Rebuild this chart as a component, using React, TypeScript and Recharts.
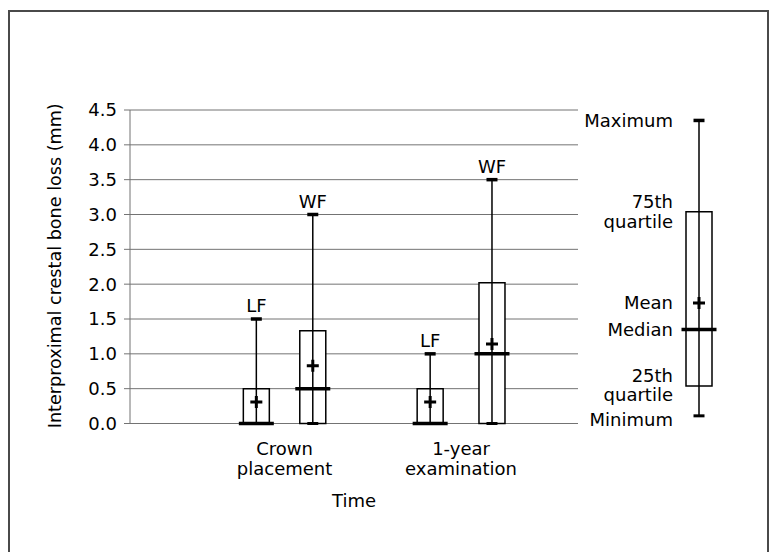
import React from 'react';
import {
  ComposedChart,
  XAxis,
  YAxis,
  CartesianGrid,
  ReferenceArea,
  ReferenceLine,
  Scatter,
} from 'recharts';

// ---------------- data ----------------
const timePoints = ['Crown placement', '1-year examination'];
const groupNames = ['LF', 'WF'];
// one entry per box: LF & WF at crown placement, LF & WF at 1-year examination
const boxTime = [0, 0, 1, 1];
const boxGroup = [0, 1, 0, 1];
const minimum = [0, 0, 0, 0];
const quartile25 = [0, 0, 0, 0];
const median = [0, 0.5, 0, 1.0];
const quartile75 = [0.5, 1.33, 0.5, 2.02];
const maximum = [1.5, 3.0, 1.0, 3.5];
const mean = [0.31, 0.83, 0.31, 1.14];

const yTicks = [0, 0.5, 1, 1.5, 2, 2.5, 3, 3.5, 4, 4.5];

// explanatory key box
const keyLabels = ['Maximum', '75th\nquartile', 'Mean', 'Median', '25th\nquartile', 'Minimum'];
const keyValues = [4.35, 3.04, 1.73, 1.35, 0.54, 0.11];

// ---------------- layout ----------------
const W = 770;
const H = 552;
const FONT = '"DejaVu Sans", Verdana, sans-serif';
const GRID = '#737373';
const X_DOMAIN: [number, number] = [0, 10]; // main plot spans 448px
const BOX_X = [2.82, 4.08, 6.70, 8.08];
const MAIN_PX = 44.8; // px per x unit in main chart
const KEY_PX = 40; // px per x unit in key chart
const BOX_HALF_PX = 13;
const MED_HALF_PX = 17.5;
const CAP_HALF_PX = 5.5;
const KEY_LABEL_NUDGE = [0, 0, 0, 0, -1, 4]; // px, vertical text nudges of key labels

type Box = {
  x: number;
  name?: string;
  min: number;
  q1: number;
  med: number;
  q3: number;
  max: number;
  mean: number;
};

const boxes: Box[] = boxTime.map((t, i) => ({
  x: BOX_X[i],
  name: groupNames[boxGroup[i]],
  min: minimum[i],
  q1: quartile25[i],
  med: median[i],
  q3: quartile75[i],
  max: maximum[i],
  mean: mean[i],
}));

const timeCenters = timePoints.map((_, t) => {
  const xs = BOX_X.filter((_, i) => boxTime[i] === t);
  return xs.reduce((a, b) => a + b, 0) / xs.length;
});

const keyBox: Box = {
  x: 0.5,
  max: keyValues[0],
  q3: keyValues[1],
  mean: keyValues[2],
  med: keyValues[3],
  q1: keyValues[4],
  min: keyValues[5],
};

const Plus = (props: any) => {
  const { cx, cy } = props;
  if (cx == null || cy == null) return null;
  return (
    <path
      d={`M${cx - 6},${cy}H${cx + 6}M${cx},${cy - 6}V${cy + 6}`}
      stroke="#000"
      strokeWidth={3}
      fill="none"
    />
  );
};

function boxAreas(list: Box[], pxPerUnit: number, prefix: string) {
  const bh = BOX_HALF_PX / pxPerUnit;
  return list.map((b, i) => (
    <ReferenceArea
      key={`${prefix}-area-${i}`}
      x1={b.x - bh}
      x2={b.x + bh}
      y1={b.q1}
      y2={b.q3}
      fill="#ffffff"
      fillOpacity={1}
      stroke="#000"
      strokeWidth={1.5}
      ifOverflow="visible"
    />
  ));
}

function boxLines(list: Box[], pxPerUnit: number, prefix: string, withLabel: boolean) {
  const mh = MED_HALF_PX / pxPerUnit;
  const ch = CAP_HALF_PX / pxPerUnit;
  return list.flatMap((b, i) => [
    <ReferenceLine
      key={`${prefix}-wh-${i}`}
      segment={[
        { x: b.x, y: b.min },
        { x: b.x, y: b.max },
      ]}
      stroke="#000"
      strokeWidth={1.5}
      ifOverflow="visible"
    />,
    <ReferenceLine
      key={`${prefix}-min-${i}`}
      segment={[
        { x: b.x - ch, y: b.min },
        { x: b.x + ch, y: b.min },
      ]}
      stroke="#000"
      strokeWidth={3}
      ifOverflow="visible"
    />,
    <ReferenceLine
      key={`${prefix}-max-${i}`}
      segment={[
        { x: b.x - ch, y: b.max },
        { x: b.x + ch, y: b.max },
      ]}
      stroke="#000"
      strokeWidth={3.5}
      ifOverflow="visible"
      label={
        withLabel && b.name
          ? {
              value: b.name,
              position: 'top',
              offset: 7,
              fill: '#000',
              fontSize: 18,
              fontFamily: FONT,
            }
          : undefined
      }
    />,
    <ReferenceLine
      key={`${prefix}-med-${i}`}
      segment={[
        { x: b.x - mh, y: b.med },
        { x: b.x + mh, y: b.med },
      ]}
      stroke="#000"
      strokeWidth={3.5}
      ifOverflow="visible"
    />,
  ]);
}

const TimeTick = (props: any) => {
  const { x, y, payload } = props;
  const idx = timeCenters.findIndex((v) => Math.abs(v - payload.value) < 1e-6);
  if (idx < 0) return null;
  const lines = timePoints[idx].split(' ');
  return (
    <text x={x} y={y} textAnchor="middle" fontSize={18} fontFamily={FONT} fill="#000">
      {lines.map((l, j) => (
        <tspan key={j} x={x} y={y + 31.5 + j * 20}>
          {l}
        </tspan>
      ))}
    </text>
  );
};

const KeyTick = (props: any) => {
  const { x, y, payload } = props;
  const idx = keyValues.indexOf(payload.value);
  if (idx < 0) return null;
  const lines = keyLabels[idx].split('\n');
  const base = y + 6.5 + KEY_LABEL_NUDGE[idx];
  return (
    <text x={x - 6} y={y} textAnchor="end" fontSize={18} fontFamily={FONT} fill="#000">
      {lines.map((l, j) => (
        <tspan key={j} x={x - 6} y={base + (j - (lines.length - 1) / 2) * 19.5}>
          {l}
        </tspan>
      ))}
    </text>
  );
};

const YTitle = (props: any) => {
  const vb = props.viewBox || { x: 0, y: 110, width: 130, height: 313.5 };
  const cy = vb.y + vb.height / 2;
  return (
    <text
      transform={`translate(55, ${cy - 1}) rotate(-90)`}
      textAnchor="middle"
      dominantBaseline="central"
      fontSize={17.6}
      fontFamily={FONT}
      fill="#000"
    >
      Interproximal crestal bone loss (mm)
    </text>
  );
};

const XTitle = (props: any) => {
  const vb = props.viewBox || { x: 130, y: 423.5, width: 448, height: 60 };
  return (
    <text
      x={vb.x + vb.width / 2}
      y={506.5}
      textAnchor="middle"
      fontSize={18}
      fontFamily={FONT}
      fill="#000"
    >
      Time
    </text>
  );
};

export default function App() {
  return (
    <div
      style={{
        position: 'absolute',
        left: 0,
        top: 0,
        width: W,
        height: H,
        overflow: 'hidden',
        background: '#fff',
      }}
    >
      <div
        style={{
          position: 'absolute',
          left: 8,
          top: 10,
          width: 757,
          height: 540,
          borderTop: '2px solid #4a4a4a',
          borderLeft: '2px solid #4a4a4a',
          borderRight: '2px solid #4a4a4a',
        }}
      />
      <div style={{ position: 'absolute', left: 0, top: 0 }}>
        <ComposedChart
          width={W}
          height={H}
          data={boxes}
          margin={{ top: 110, right: 192, bottom: 68.5, left: 0 }}
        >
          <CartesianGrid horizontal vertical={false} stroke={GRID} strokeWidth={1} />
          <XAxis
            type="number"
            dataKey="x"
            domain={X_DOMAIN}
            allowDataOverflow
            ticks={timeCenters}
            interval={0}
            height={60}
            axisLine={false}
            tickLine={false}
            tickSize={0}
            tickMargin={0}
            tick={<TimeTick />}
            label={{ content: XTitle }}
          />
          <YAxis
            type="number"
            domain={[0, 4.5]}
            allowDataOverflow
            ticks={yTicks}
            interval={0}
            width={130}
            axisLine={{ stroke: GRID }}
            tickLine={{ stroke: GRID }}
            tickSize={6}
            tickMargin={7}
            tickFormatter={(v: number) => v.toFixed(1)}
            tick={{ fill: '#000', fontSize: 18, fontFamily: FONT }}
            label={{ content: YTitle }}
          />
          {boxAreas(boxes, MAIN_PX, 'm')}
          {boxLines(boxes, MAIN_PX, 'm', true)}
          <Scatter
            data={boxes}
            dataKey="mean"
            shape={Plus}
            isAnimationActive={false}
          />
        </ComposedChart>
      </div>
      <div style={{ position: 'absolute', left: 0, top: 0 }}>
        <ComposedChart
          width={W}
          height={H}
          data={[keyBox]}
          margin={{ top: 110, right: 51, bottom: 128.5, left: 579 }}
        >
          <XAxis type="number" dataKey="x" domain={[0, 1]} allowDataOverflow hide />
          <YAxis
            type="number"
            domain={[0, 4.5]}
            allowDataOverflow
            ticks={keyValues}
            interval={0}
            width={100}
            axisLine={false}
            tickLine={false}
            tickSize={0}
            tickMargin={0}
            tick={<KeyTick />}
          />
          {boxAreas([keyBox], KEY_PX, 'k')}
          {boxLines([keyBox], KEY_PX, 'k', false)}
          <Scatter
            data={[keyBox]}
            dataKey="mean"
            shape={Plus}
            isAnimationActive={false}
          />
        </ComposedChart>
      </div>
    </div>
  );
}
